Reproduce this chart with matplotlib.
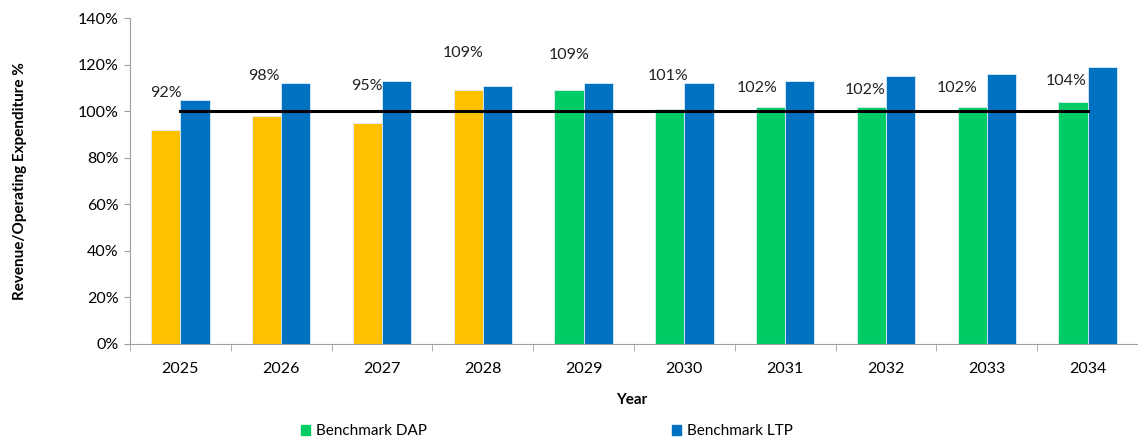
import matplotlib
import numpy as np
import matplotlib.pyplot as plt
from matplotlib.patches import Patch

matplotlib.use('Agg')
plt.rcParams['font.family'] = ['Lato', 'DejaVu Sans']

years = ['2025', '2026', '2027', '2028', '2029', '2030', '2031', '2032', '2033', '2034']
dap = [92, 98, 95, 109, 109, 101, 102, 102, 102, 104]
ltp = [105, 112, 113, 111, 112, 112, 113, 115, 116, 119]
benchmark = [100] * len(years)
# first four DAP years are shown in amber, the rest in green
dap_colors = ['#FFC000'] * 4 + ['#00CC66'] * 6
label_offsets = [16, 17, 16, 16, 15, 14, 8, 7, 8, 9]
label_dx = [0.0, -0.03, 0.0, -0.05, 0.0, -0.02, -0.13, -0.06, -0.15, -0.07]

x = np.arange(len(years))
w = 0.29

fig = plt.figure(figsize=(11.38, 4.41), dpi=100)
ax = fig.add_axes([0.1142, 0.22, 0.8858, 0.739])

ax.bar(x - w / 2, dap, w, color=dap_colors, edgecolor='#DDEBF7', linewidth=0.6)
ax.bar(x + w / 2, ltp, w, color='#0070C0', edgecolor='#DDEBF7', linewidth=0.6)
ax.plot(x, benchmark, color='black', linewidth=2.2)

for i, v in enumerate(dap):
    ax.text(x[i] - w / 2 + label_dx[i], v + label_offsets[i], f'{v}%',
            ha='center', va='center', fontsize=11.5, color='#222222')

ax.set_xlim(-0.5, 9.38)
ax.set_ylim(0, 140)
ax.set_yticks(np.arange(0, 141, 20))
ax.set_yticklabels([f'{t}%' for t in range(0, 141, 20)], fontsize=11.5)
ax.set_xticks(x)
ax.set_xticklabels(years, fontsize=11.5)
ax.set_xticks(np.arange(-0.5, 9.6, 1), minor=True)
ax.tick_params(axis='x', which='major', length=0, pad=13)
ax.tick_params(axis='x', which='minor', length=5, color='#A0A0A0')
ax.tick_params(axis='y', length=4, color='#A0A0A0', pad=4)

for s in ['top', 'right']:
    ax.spines[s].set_visible(False)
for s in ['left', 'bottom']:
    ax.spines[s].set_color('#A0A0A0')

ax.set_ylabel('Revenue/Operating Expenditure %', fontsize=11, fontweight='bold')
ax.yaxis.set_label_coords(-0.102, 0.5)
fig.text(0.555, 0.093, 'Year', fontsize=11, fontweight='bold', ha='center', va='center')

fig.legend(handles=[Patch(color='#00CC66', label='Benchmark DAP')],
           loc='center left', bbox_to_anchor=(0.252, 0.022), frameon=False,
           fontsize=11, handlelength=0.6, handleheight=0.6, handletextpad=0.4)
fig.legend(handles=[Patch(color='#0070C0', label='Benchmark LTP')],
           loc='center left', bbox_to_anchor=(0.578, 0.022), frameon=False,
           fontsize=11, handlelength=0.6, handleheight=0.6, handletextpad=0.4)

fig.savefig('out.png', dpi=100)
